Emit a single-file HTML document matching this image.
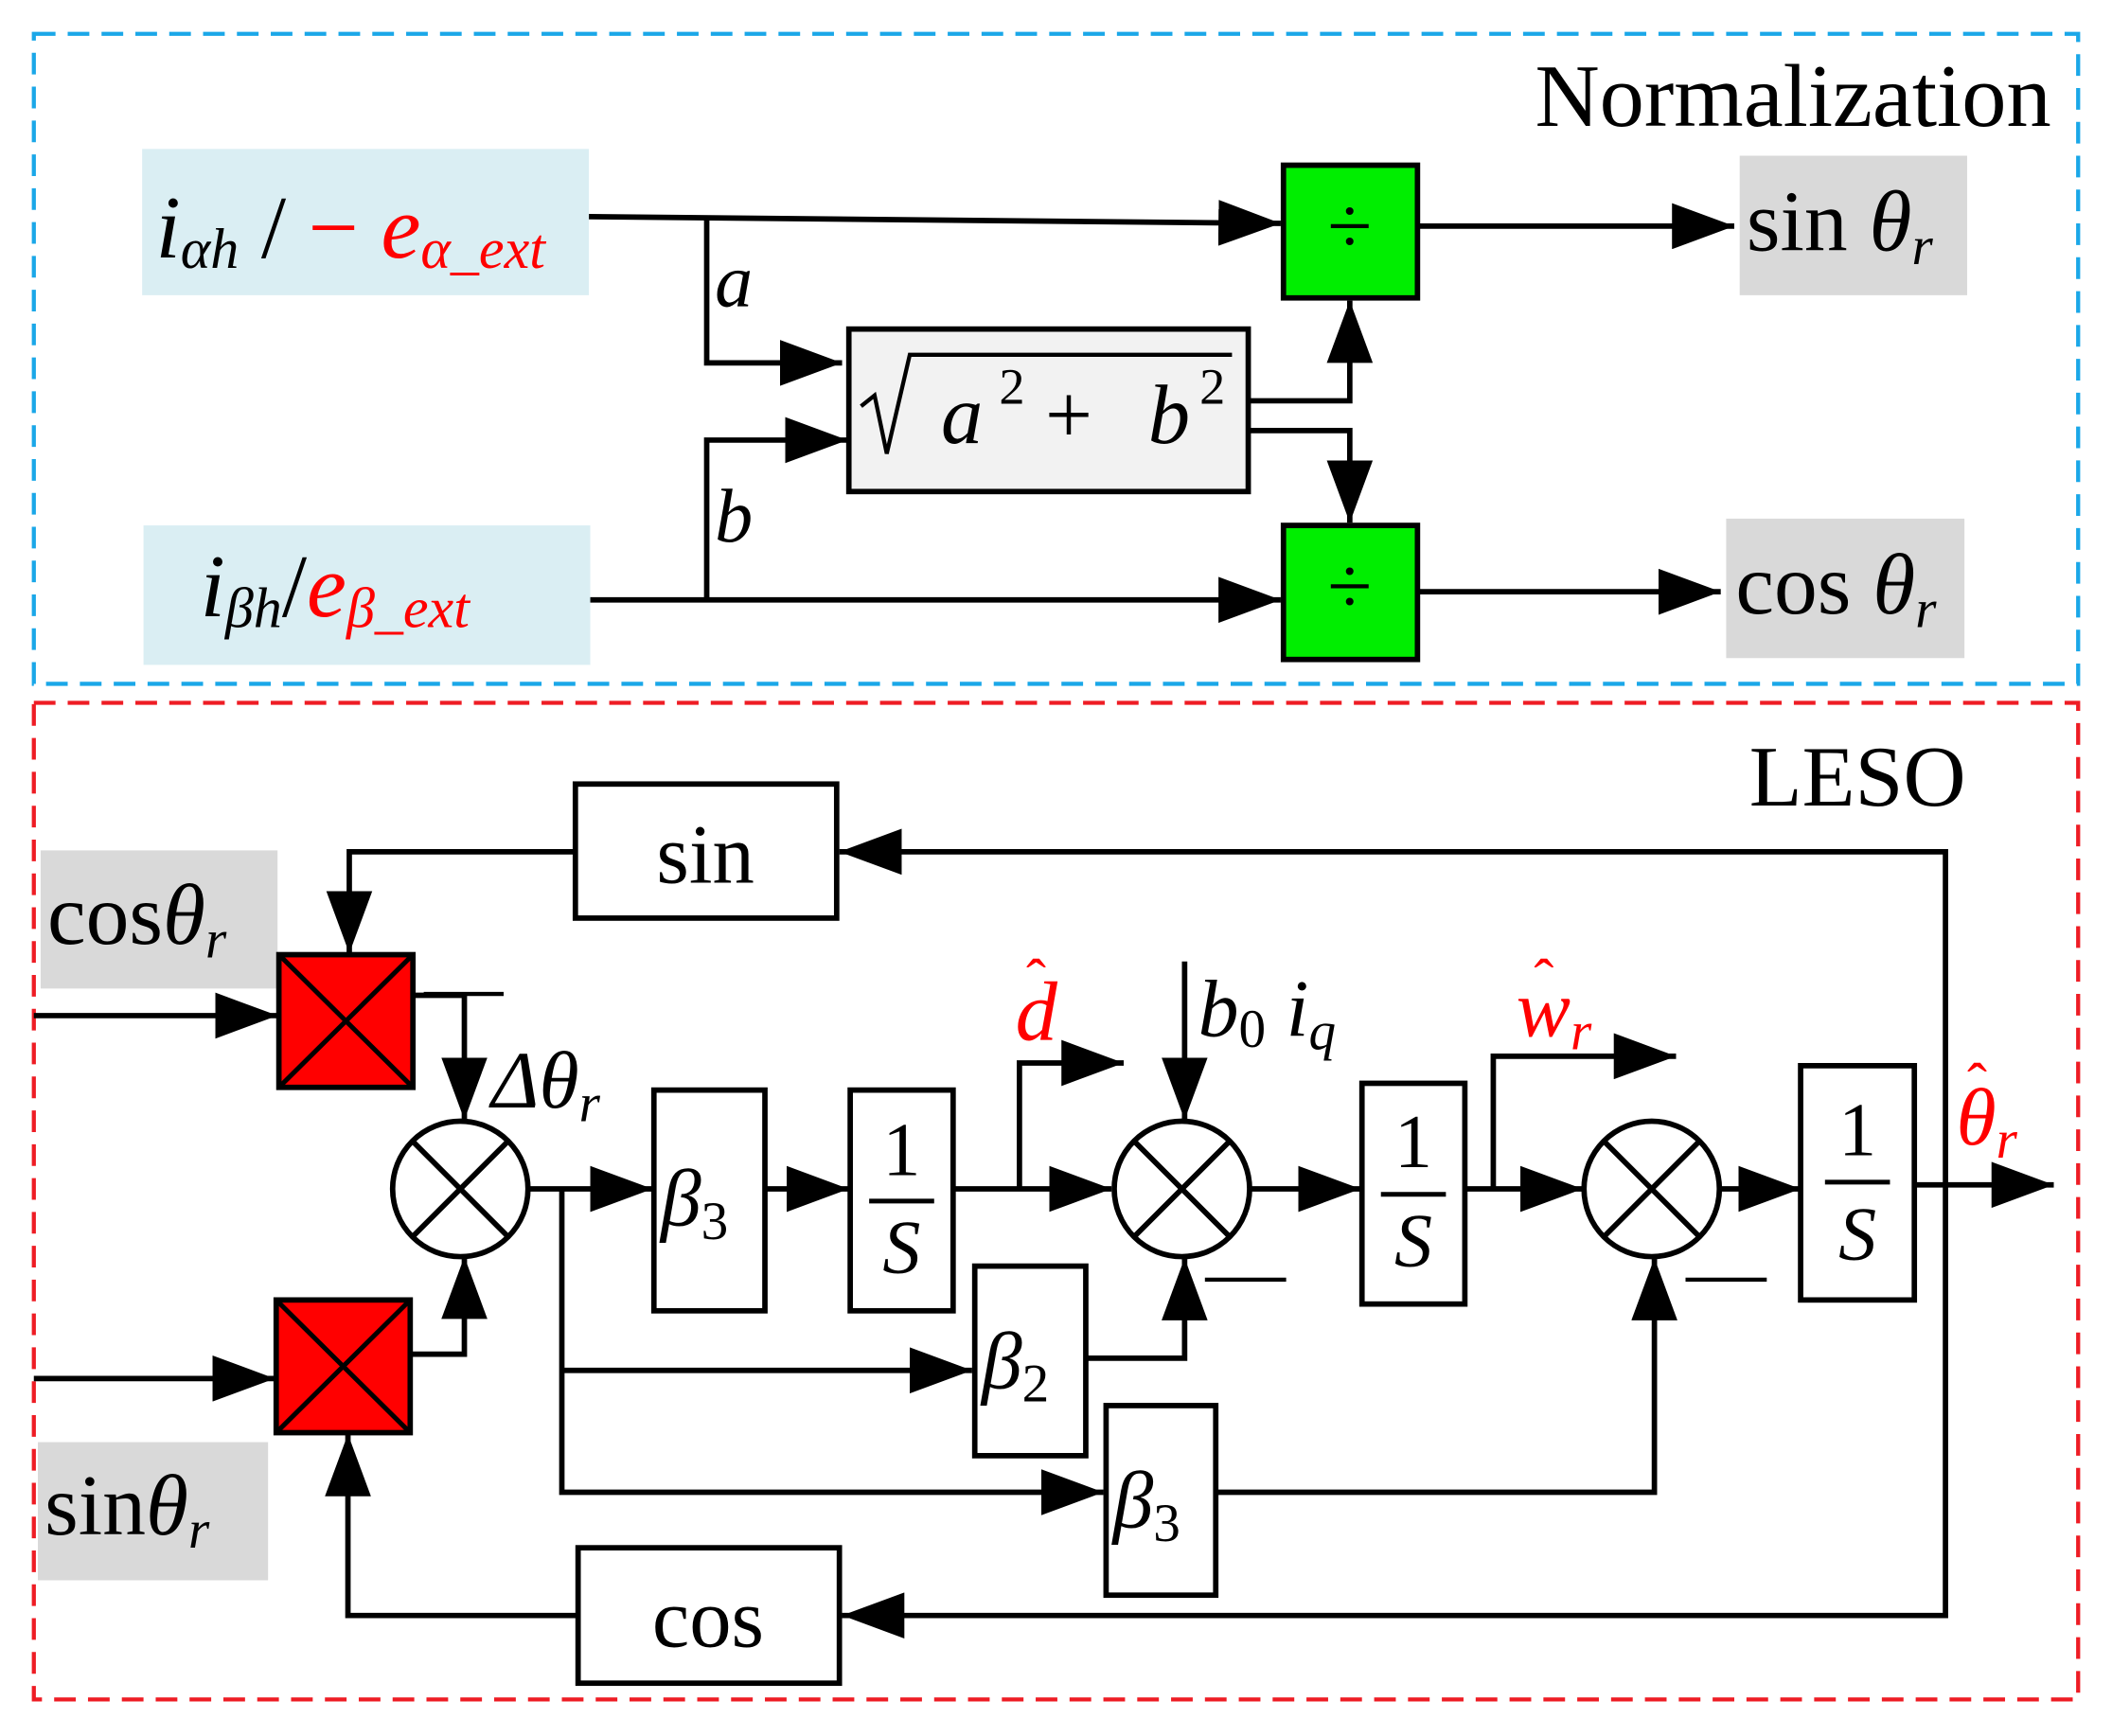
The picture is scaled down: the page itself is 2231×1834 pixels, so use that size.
<!DOCTYPE html>
<html><head><meta charset="utf-8"><style>
html,body{margin:0;padding:0;background:#fff}
svg{display:block}
text{font-family:"Liberation Serif",serif}
.i{font-style:italic}
</style></head><body>
<svg width="2231" height="1834" viewBox="0 0 1560 1282" preserveAspectRatio="none" xmlns="http://www.w3.org/2000/svg">
<defs>
<marker id="a" markerUnits="userSpaceOnUse" markerWidth="48" markerHeight="34" refX="46" refY="17" orient="auto">
<polygon points="0,0 46,17 0,34" fill="#000"/></marker>
</defs>
<g fill="none" stroke-width="3" stroke-dasharray="16,9">
<rect x="25" y="25" width="1510" height="480" stroke="#1aa7e8"/>
<rect x="25" y="519" width="1510" height="736" stroke="#ee1c24"/>
</g>
<text x="1515" y="93" font-size="66" text-anchor="end">Normalization</text>
<text x="1452" y="595" font-size="64" text-anchor="end">LESO</text>

<rect x="105" y="110" width="330" height="108" fill="#daeef3"/>
<rect x="106" y="388" width="330" height="103" fill="#daeef3"/>
<text x="115" y="190" font-size="66"><tspan class="i">i</tspan><tspan class="i" font-size="42" dy="8">αh</tspan><tspan dy="-8"> / </tspan><tspan fill="#f00">− </tspan><tspan fill="#f00" class="i">e</tspan><tspan fill="#f00" class="i" font-size="42" dy="8">α_ext</tspan></text>
<text x="148" y="455" font-size="66"><tspan class="i">i</tspan><tspan class="i" font-size="42" dy="8">βh</tspan><tspan dy="-8">/</tspan><tspan fill="#f00" class="i">e</tspan><tspan fill="#f00" class="i" font-size="42" dy="8">β_ext</tspan></text>

<g stroke="#000" stroke-width="4" fill="none">
<path d="M435,160 L946,165" marker-end="url(#a)"/>
<path d="M522,162 V268 H622" marker-end="url(#a)"/>
<path d="M522,443 V325 H626" marker-end="url(#a)"/>
<path d="M436,443 H946" marker-end="url(#a)"/>
<path d="M922,296 H997 V222" marker-end="url(#a)"/>
<path d="M922,318 H997 V386" marker-end="url(#a)"/>
<path d="M1047,167 H1281" marker-end="url(#a)"/>
<path d="M1047,437 H1271" marker-end="url(#a)"/>
</g>
<text x="528" y="226" font-size="56" class="i">a</text>
<text x="528" y="400" font-size="56" class="i">b</text>
<rect x="627" y="243" width="295" height="120" fill="#f2f2f2" stroke="#000" stroke-width="4"/>
<path d="M636,300 L646,292 L655,335 L672,262 H910" fill="none" stroke="#000" stroke-width="3"/>
<text x="695" y="327" font-size="62" class="i">a</text>
<text x="738" y="298" font-size="38">2</text>
<text x="772" y="327" font-size="62">+</text>
<text x="848" y="327" font-size="62" class="i">b</text>
<text x="886" y="298" font-size="38">2</text>
<rect x="948" y="122" width="99" height="98" fill="#00ee00" stroke="#000" stroke-width="4"/>
<rect x="948" y="388" width="99" height="99" fill="#00ee00" stroke="#000" stroke-width="4"/>
<text x="997" y="187" font-size="60" text-anchor="middle">÷</text>
<text x="997" y="453" font-size="60" text-anchor="middle">÷</text>
<rect x="1285" y="115" width="168" height="103" fill="#d9d9d9"/>
<rect x="1275" y="383" width="176" height="103" fill="#d9d9d9"/>
<text x="1290" y="185" font-size="64">sin <tspan class="i">θ</tspan><tspan class="i" font-size="40" dy="10">r</tspan></text>
<text x="1282" y="453" font-size="64">cos <tspan class="i">θ</tspan><tspan class="i" font-size="40" dy="10">r</tspan></text>

<!-- LESO -->
<rect x="30" y="628" width="175" height="102" fill="#d9d9d9"/>
<rect x="28" y="1065" width="170" height="102" fill="#d9d9d9"/>
<text x="35" y="697" font-size="64">cos<tspan class="i">θ</tspan><tspan class="i" font-size="40" dy="10">r</tspan></text>
<text x="33" y="1133" font-size="64">sin<tspan class="i">θ</tspan><tspan class="i" font-size="40" dy="10">r</tspan></text>

<g stroke="#000" stroke-width="4" fill="none">
<path d="M25,750 H205" marker-end="url(#a)"/>
<path d="M25,1018 H203" marker-end="url(#a)"/>
<path d="M425,629 H258 V704" marker-end="url(#a)"/>
<path d="M427,1193 H257 V1059" marker-end="url(#a)"/>
<path d="M305,735 H343 V827" marker-end="url(#a)"/>
<path d="M303,1000 H343 V928" marker-end="url(#a)"/>
<path d="M1437,878 V629 H620" marker-end="url(#a)"/>
<path d="M1437,878 V1193 H622" marker-end="url(#a)"/>
<path d="M390,878 H482" marker-end="url(#a)"/>
<path d="M565,878 H627" marker-end="url(#a)"/>
<path d="M704,878 H821" marker-end="url(#a)"/>
<path d="M753,878 V785 H830" marker-end="url(#a)"/>
<path d="M875,710 V827" marker-end="url(#a)"/>
<path d="M415,878 V1102 H815" marker-end="url(#a)"/>
<path d="M415,1012 H718" marker-end="url(#a)"/>
<path d="M802,1003 H875 V929" marker-end="url(#a)"/>
<path d="M898,1102 H1222 V929" marker-end="url(#a)"/>
<path d="M923,878 H1005" marker-end="url(#a)"/>
<path d="M1082,878 H1169" marker-end="url(#a)"/>
<path d="M1103,878 V780 H1238" marker-end="url(#a)"/>
<path d="M1270,878 H1330" marker-end="url(#a)"/>
<path d="M1414,875 H1517" marker-end="url(#a)"/>
<path d="M313,734 H372 M890,945 H950 M1245,945 H1305" stroke-width="3"/>
</g>

<g stroke="#000" stroke-width="4" fill="#fff">
<rect x="425" y="579" width="193" height="99"/>
<rect x="427" y="1143" width="193" height="100"/>
<rect x="483" y="805" width="82" height="163"/>
<rect x="628" y="805" width="76" height="163"/>
<rect x="720" y="935" width="82" height="140"/>
<rect x="817" y="1038" width="81" height="140"/>
<rect x="1006" y="800" width="76" height="163"/>
<rect x="1330" y="787" width="84" height="173"/>
<circle cx="340" cy="878" r="50"/>
<circle cx="873" cy="878" r="50"/>
<circle cx="1220" cy="878" r="50"/>
</g>
<g stroke="#000" stroke-width="4">
<line x1="305" y1="843" x2="375" y2="913"/><line x1="375" y1="843" x2="305" y2="913"/>
<line x1="838" y1="843" x2="908" y2="913"/><line x1="908" y1="843" x2="838" y2="913"/>
<line x1="1185" y1="843" x2="1255" y2="913"/><line x1="1255" y1="843" x2="1185" y2="913"/>
</g>
<g stroke="#000" stroke-width="4" fill="#f00">
<rect x="206" y="705" width="99" height="98"/>
<rect x="204" y="960" width="99" height="98"/>
</g>
<g stroke="#000" stroke-width="3.5">
<line x1="206" y1="705" x2="305" y2="803"/><line x1="305" y1="705" x2="206" y2="803"/>
<line x1="204" y1="960" x2="303" y2="1058"/><line x1="303" y1="960" x2="204" y2="1058"/>
<line x1="642" y1="887" x2="690" y2="887"/>
<line x1="1020" y1="882" x2="1068" y2="882"/>
<line x1="1348" y1="873" x2="1396" y2="873"/>
</g>
<text x="521" y="652" font-size="62" text-anchor="middle">sin</text>
<text x="523" y="1216" font-size="62" text-anchor="middle">cos</text>
<text x="488" y="905" font-size="60" class="i">β<tspan font-size="40" dy="10" font-style="normal">3</tspan></text>
<text x="725" y="1025" font-size="60" class="i">β<tspan font-size="40" dy="10" font-style="normal">2</tspan></text>
<text x="822" y="1128" font-size="60" class="i">β<tspan font-size="40" dy="10" font-style="normal">3</tspan></text>
<g font-size="56" text-anchor="middle">
<text x="666" y="868">1</text><text x="666" y="940" class="i">S</text>
<text x="1044" y="862">1</text><text x="1044" y="935" class="i">S</text>
<text x="1372" y="853">1</text><text x="1372" y="930" class="i">S</text>
</g>
<text x="363" y="818" font-size="60"><tspan class="i">Δθ</tspan><tspan class="i" font-size="40" dy="10">r</tspan></text>
<text x="885" y="765" font-size="60" class="i">b<tspan font-size="40" dy="8" font-style="normal">0</tspan><tspan dy="-8"> i</tspan><tspan font-size="40" dy="10">q</tspan></text>
<text x="750" y="768" font-size="62" fill="#f00" class="i">d</text>
<text x="758" y="738" font-size="44" fill="#f00">ˆ</text>
<text x="1120" y="765" font-size="60" fill="#f00" class="i">w<tspan font-size="40" dy="10">r</tspan></text>
<text x="1133" y="738" font-size="44" fill="#f00">ˆ</text>
<text x="1445" y="845" font-size="60" fill="#f00" class="i">θ<tspan font-size="40" dy="10">r</tspan></text>
<text x="1453" y="815" font-size="44" fill="#f00">ˆ</text>
</svg>
</body></html>
